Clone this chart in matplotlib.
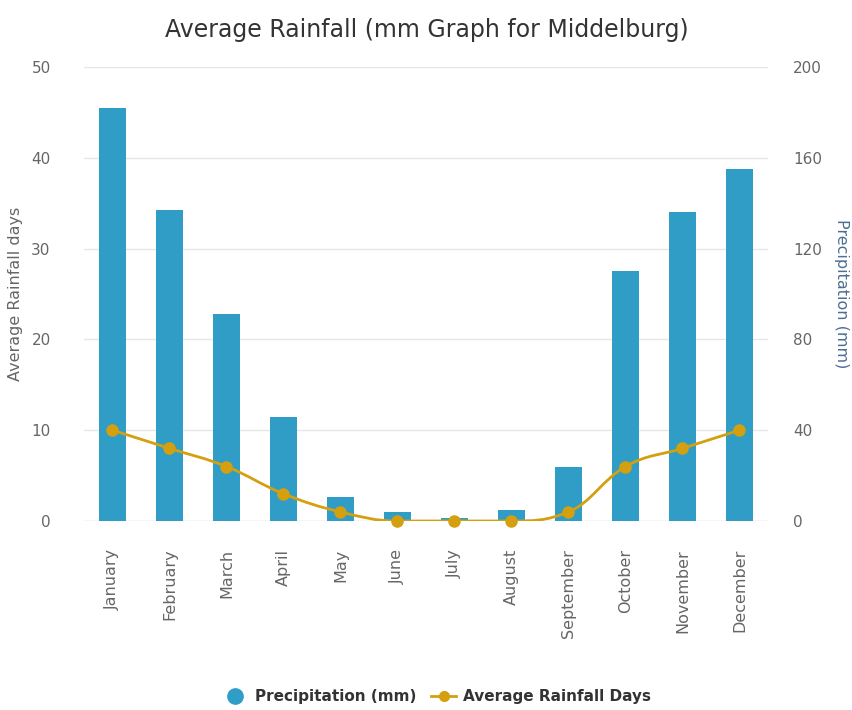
import numpy as np
import matplotlib
matplotlib.use("Agg")
import matplotlib.pyplot as plt
from matplotlib.path import Path
from matplotlib.patches import PathPatch
from matplotlib.lines import Line2D

months = ['January', 'February', 'March', 'April', 'May', 'June', 'July',
          'August', 'September', 'October', 'November', 'December']
precip_mm = [182, 137, 91, 46, 10.5, 4, 1.5, 5, 24, 110, 136, 155]
rain_days = [10, 8, 6, 3, 1, 0, 0, 0, 1, 6, 8, 10]

bar_col = '#2f9dc5'
line_col = '#d4a00f'
grid_col = '#e6e6e6'
txt_col = '#666666'

plt.rcParams['font.family'] = ['DejaVu Sans']


def spline_path(xs, ys, smoothing=1.5):
    # highcharts style spline, control points from neighbours
    denom = smoothing + 1
    n = len(xs)
    lc = [None] * n
    rc = [None] * n
    for i in range(1, n - 1):
        px, py = xs[i], ys[i]
        lx, ly = xs[i - 1], ys[i - 1]
        nx, ny = xs[i + 1], ys[i + 1]
        lcx = (smoothing * px + lx) / denom
        lcy = (smoothing * py + ly) / denom
        rcx = (smoothing * px + nx) / denom
        rcy = (smoothing * py + ny) / denom
        corr = 0
        if rcx != lcx:
            corr = (rcy - lcy) * (rcx - px) / (rcx - lcx) + py - rcy
        lcy += corr
        rcy += corr
        if lcy > ly and lcy > py:
            lcy = max(ly, py); rcy = 2 * py - lcy
        elif lcy < ly and lcy < py:
            lcy = min(ly, py); rcy = 2 * py - lcy
        if rcy > ny and rcy > py:
            rcy = max(ny, py); lcy = 2 * py - rcy
        elif rcy < ny and rcy < py:
            rcy = min(ny, py); lcy = 2 * py - rcy
        lc[i] = (lcx, lcy)
        rc[i] = (rcx, rcy)
    verts = [(xs[0], ys[0])]
    codes = [Path.MOVETO]
    for i in range(1, n):
        c1 = rc[i - 1] if rc[i - 1] else (xs[i - 1], ys[i - 1])
        c2 = lc[i] if lc[i] else (xs[i], ys[i])
        verts += [c1, c2, (xs[i], ys[i])]
        codes += [Path.CURVE4] * 3
    return Path(verts, codes)


fig = plt.figure(figsize=(8.53, 7.10), dpi=100)
ax = fig.add_axes([84 / 853, 1 - 521 / 710, 684 / 853, 454 / 710])
ax2 = ax.twinx()
x = np.arange(len(months))

# bars on precipitation axis (right side)
ax.bar(x, precip_mm, width=0.46, color=bar_col, zorder=2)
ax.set_ylim(0, 200)
ax.set_xlim(-0.5, len(months) - 0.5)
ax.set_yticks([0, 40, 80, 120, 160, 200])
ax.yaxis.tick_right()
ax.yaxis.set_label_position('right')
ax.set_ylabel('Precipitation (mm)', color='#4d6e94', fontsize=11.5,
              rotation=-90, va='center', ha='center')
ax.yaxis.set_label_coords(1.107, 0.5)
ax.grid(axis='y', color=grid_col, linewidth=1, zorder=0)
ax.set_axisbelow(True)
for s in ax.spines.values():
    s.set_visible(False)
ax.axhline(0, color='#e0e3ea', linewidth=1, zorder=1)
ax.tick_params(axis='y', length=0, pad=18, labelcolor=txt_col, labelsize=11)
ax.set_xticks(x)
ax.set_xticklabels(months, rotation=90, fontsize=11.5, color=txt_col)
ax.tick_params(axis='x', length=0, pad=20)

# days line on left axis
ax2.set_ylim(0, 50)
ax2.yaxis.tick_left()
ax2.yaxis.set_label_position('left')
ax2.set_yticks([0, 10, 20, 30, 40, 50])
ax2.tick_params(axis='y', length=0, pad=24, labelcolor=txt_col, labelsize=11)
ax2.set_ylabel('Average Rainfall days', color=txt_col, fontsize=11.5, labelpad=6)
for s in ax2.spines.values():
    s.set_visible(False)
ax2.add_patch(PathPatch(spline_path(list(x), rain_days), facecolor='none',
                        edgecolor=line_col, linewidth=2, zorder=3))
ax2.plot(x, rain_days, linestyle='none', marker='o', markersize=8,
         color=line_col, zorder=4, clip_on=False)

fig.text(0.5, 1 - 30 / 710, 'Average Rainfall (mm Graph for Middelburg)',
         ha='center', va='center', fontsize=17, color='#333333')

handles = [
    Line2D([], [], linestyle='none', marker='o', markersize=11, color=bar_col),
    Line2D([], [], color=line_col, linewidth=2, marker='o', markersize=7),
]
fig.legend(handles, ['Precipitation (mm)', 'Average Rainfall Days'],
           loc='center', bbox_to_anchor=(437 / 853, 1 - 697 / 710), ncol=2,
           frameon=False, prop={'weight': 'bold', 'size': 11},
           labelcolor='#333333', handlelength=1.6, columnspacing=1.0,
           handletextpad=0.5)

fig.savefig('out.png', dpi=100)
